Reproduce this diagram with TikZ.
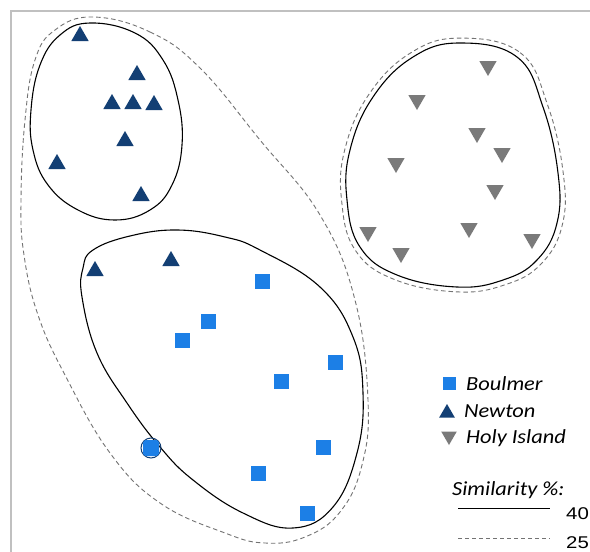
\documentclass[tikz,border=0pt]{standalone}
\usepackage{fontspec}
\setmainfont{Carlito}
\newfontfamily\arialf{Liberation Sans}
\usetikzlibrary{shapes.geometric}
\definecolor{newtonc}{RGB}{19,63,116}
\definecolor{boulc}{RGB}{28,127,230}
\definecolor{holyc}{RGB}{122,122,122}
\definecolor{framec}{RGB}{192,192,192}
\definecolor{dashc}{RGB}{115,115,115}
\tikzset{
  newt/.style={regular polygon, regular polygon sides=3, fill=newtonc, minimum size=20pt, inner sep=0pt},
  holy/.style={regular polygon, regular polygon sides=3, shape border rotate=180, fill=holyc, minimum size=20pt, inner sep=0pt},
  boul/.style={rectangle, fill=boulc, minimum size=15pt, inner sep=0pt},
  grp/.style={draw=black, line width=1.1pt},
  grpd/.style={draw=dashc, line width=0.9pt, dash pattern=on 4.5pt off 3pt},
  legtxt/.style={anchor=west, inner sep=0pt, font=\fontsize{20}{22}\selectfont\itshape},
  numtxt/.style={anchor=west, inner sep=0pt, font=\arialf\fontsize{17}{19}\selectfont}
}
\begin{document}
\begin{tikzpicture}[x=1pt,y=-1pt]
\useasboundingbox (0,0) rectangle (590,552);
\fill[white] (0,0) rectangle (590,552);
% frame
\draw[framec, line width=1.5pt] (11,552) -- (11,11) -- (590,11);
% groups
\draw[grp] plot[smooth cycle, tension=0.7] coordinates {(90,23) (135,33) (163,60) (178,100) (182,145) (172,185) (150,210) (115,220) (78,210) (48,185) (33,150) (31,110) (40,65) (60,35)};
\draw[grpd] plot[smooth cycle, tension=0.7] coordinates {(93,17) (150,32) (200,68) (260,140) (320,215) (355,300) (368,400) (362,465) (340,512) (305,537) (265,543) (225,533) (160,503) (110,453) (65,375) (38,315) (24,255) (21,200) (25,120) (35,60) (55,30)};
\draw[grp] plot[smooth cycle, tension=0.7] coordinates {(93,250) (130,236) (177,230) (225,237) (260,250) (320,287) (353,337) (363,393) (357,453) (333,507) (293,528) (243,513) (193,480) (160,447) (127,403) (97,353) (82,297) (83,268)};
\draw[grp] plot[smooth cycle, tension=0.7] coordinates {(460,43) (517,57) (543,107) (558,173) (557,223) (537,260) (503,280) (457,287) (397,275) (360,247) (347,200) (350,150) (373,97) (413,57)};
\begin{scope}[shift={(453,165)}, xscale=1.05, yscale=1.04, shift={(-453,-165)}]
\draw[grpd] plot[smooth cycle, tension=0.7] coordinates {(460,43) (517,57) (543,107) (558,173) (557,223) (537,260) (503,280) (457,287) (397,275) (360,247) (347,200) (350,150) (373,97) (413,57)};
\end{scope}
% Newton
\node[newt] (n1) at (80,36) {};
\node[newt] (n2) at (137,75) {};
\node[newt] (n3) at (112,104) {};
\node[newt] (n4) at (133,104) {};
\node[newt] (n5) at (154,105) {};
\node[newt] (n6) at (125,141) {};
\node[newt] (n7) at (57,164) {};
\node[newt] (n8) at (141,196) {};
\node[newt] (n9) at (95,271) {};
\node[newt] (n10) at (171,261) {};
% Boulmer
\node[boul] (b1) at (262,281) {};
\node[boul] (b2) at (208,321) {};
\node[boul] (b3) at (182,340) {};
\node[boul] (b4) at (335,362) {};
\node[boul] (b5) at (281,381) {};
\node[boul] (b6) at (323,447) {};
\node[boul] (b7) at (258,473) {};
\node[boul] (b8) at (307,513) {};
\node[circle, draw=newtonc, line width=1pt, minimum size=20pt, inner sep=0pt] (bc) at (151,448) {};
\node[boul, rounded corners=3pt, minimum size=16pt] (b9) at (bc) {};
% Holy Island
\node[holy] (h1) at (488,66) {};
\node[holy] (h2) at (417,100) {};
\node[holy] (h3) at (477,133) {};
\node[holy] (h4) at (502,153) {};
\node[holy] (h5) at (396,163) {};
\node[holy] (h6) at (495,190) {};
\node[holy] (h7) at (469,228) {};
\node[holy] (h8) at (368,232) {};
\node[holy] (h9) at (532,239) {};
\node[holy] (h10) at (401,253) {};
% legend
\node[boul, minimum size=13pt] (lb) at (449,383) {};
\node[legtxt] (lbt) at (466,384) {\scalebox{1.12}[1]{Boulmer}};
\node[newt, minimum size=18pt] (ln) at (447,413) {};
\node[legtxt] (lnt) at (464,411) {\scalebox{1.12}[1]{Newton}};
\node[holy, minimum size=18pt] (lh) at (449,436) {};
\node[legtxt] (lht) at (466,438) {\scalebox{1.12}[1]{Holy Island}};
\node[legtxt] (ls) at (452,490) {\scalebox{1.12}[1]{Similarity \%:}};
\coordinate (l40a) at (458,508);
\coordinate (l40b) at (550,508);
\draw[black, line width=0.8pt] (l40a) -- (l40b);
\node[numtxt] (t40) at (566,514) {\scalebox{1.2}[1]{40}};
\coordinate (l25a) at (458,538);
\coordinate (l25b) at (550,538);
\draw[dashc, line width=0.8pt, dash pattern=on 4pt off 3pt] (l25a) -- (l25b);
\node[numtxt] (t25) at (566,543) {\scalebox{1.2}[1]{25}};
\end{tikzpicture}
\end{document}
